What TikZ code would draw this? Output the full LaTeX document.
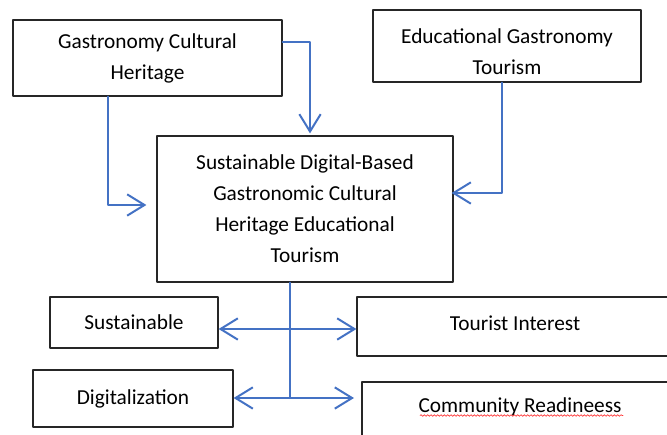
\documentclass[tikz,border=0pt]{standalone}
\usepackage{fontspec}
\setmainfont{Carlito}
\usetikzlibrary{arrows.meta}
\usetikzlibrary{decorations.pathmorphing}
\definecolor{linkblue}{HTML}{4472C4}

\begin{document}
\begin{tikzpicture}[line cap=round,line join=round,x=0.75pt,y=-0.75pt,
  box/.style={draw=black!85,line width=0.9pt,align=center,inner sep=0pt,font=\fontsize{16}{23.25}\selectfont},
  link/.style={draw=linkblue,line width=1.5pt,-{Straight Barb[length=13pt,width=16pt]}},
  both/.style={link,{Straight Barb[length=13pt,width=16pt]}-{Straight Barb[length=13pt,width=16pt]}}]
\useasboundingbox (0,0) rectangle (667,435);
\clip (0,0) rectangle (667,435);
\node [box,minimum width=201.75pt,minimum height=57pt] (gch) at (147.5,58) {Gastronomy Cultural\\Heritage};
\node [box,minimum width=201pt,minimum height=54pt] (egt) at (507,46) {\rule{0pt}{19.5pt}Educational Gastronomy\\Tourism};
\node [box,minimum width=222pt,minimum height=109.5pt] (sdb) at (305,209) {Sustainable Digital-Based\\Gastronomic Cultural\\Heritage Educational\\Tourism};
\node [box,minimum width=126pt,minimum height=38.25pt] (sus) at (134,322.5) {Sustainable};
\node [box,minimum width=237pt,minimum height=44.25pt,text height=10.3pt,text depth=4.5pt] (tin) at (515,326.5) {Tourist Interest};
\node [box,minimum width=237pt,minimum height=42pt,text height=11pt,text depth=7.5pt] (cr) at (520,410) {Community Readineess};
\node [box,minimum width=150pt,minimum height=42.75pt] (dig) at (133,398.5) {Digitalization};
% arrows into the middle box
\draw [link] ([yshift=12pt]gch.east) -| ([xshift=3.75pt,yshift=1.5pt]sdb.north);
\draw [link] ([xshift=-29.6pt]gch.south) |- ([xshift=-7.5pt,yshift=3pt]sdb.west);
\draw [link] ([xshift=-3.75pt]egt.south) |- ([xshift=-1.5pt,yshift=12pt]sdb.east);
% stem and branches
\coordinate (j1) at (290,329);
\coordinate (j2) at (290,398);
\coordinate (j3) at (354,398);
\draw [draw=linkblue,line width=1.5pt] ([xshift=-11.25pt]sdb.south) -- (j2);
\draw [both] (j1 -| sus.east) -- (j1 -| tin.west);
\draw [both] (j2 -| dig.east) -- (j3);
%\draw [red] (cr.south west) -- (cr.south east);
\draw [red!80,line width=0.5pt,decorate,decoration={snake,amplitude=0.6pt,segment length=2.5pt}] (420,415.5) -- (623,415.5);
\end{tikzpicture}
\end{document}
